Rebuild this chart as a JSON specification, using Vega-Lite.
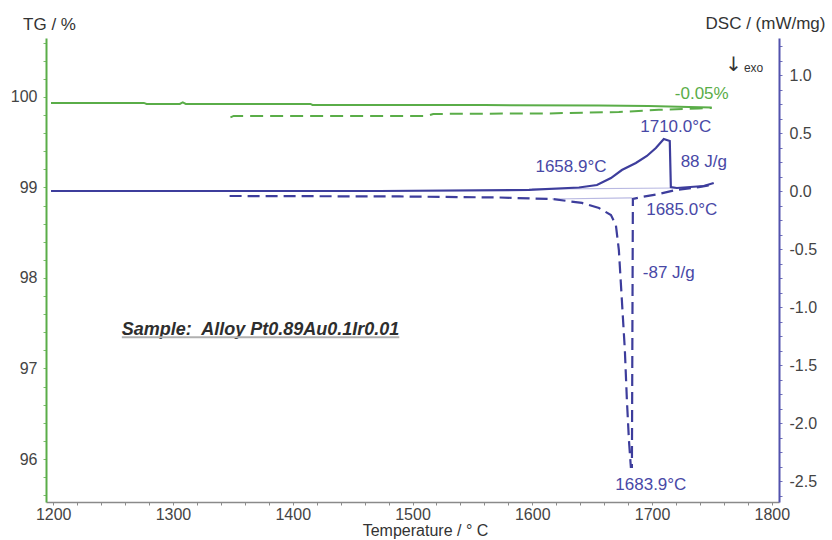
{
  "$schema": "https://vega.github.io/schema/vega-lite/v6.json",
  "width": 733,
  "height": 464,
  "autosize": {"type": "none"},
  "padding": {"left": 46, "top": 38, "right": 53, "bottom": 38},
  "background": "white",
  "config": {"view": {"stroke": null}, "font": "Liberation Sans", "text": {"font": "Liberation Sans"}},
  "datasets": {
    "tgSolid": [
      {"i": 0, "T": 1198.2, "v": 99.934}, {"i": 1, "T": 1275.7, "v": 99.934}, {"i": 2, "T": 1278, "v": 99.923},
      {"i": 3, "T": 1305.7, "v": 99.923}, {"i": 4, "T": 1308.2, "v": 99.939}, {"i": 5, "T": 1310.7, "v": 99.923},
      {"i": 6, "T": 1414.8, "v": 99.923}, {"i": 7, "T": 1416.5, "v": 99.912}, {"i": 8, "T": 1560, "v": 99.91},
      {"i": 9, "T": 1655.7, "v": 99.906}, {"i": 10, "T": 1697, "v": 99.9}, {"i": 11, "T": 1730.7, "v": 99.89},
      {"i": 12, "T": 1749.8, "v": 99.884}
    ],
    "tgDashed": [
      {"i": 0, "T": 1348, "v": 99.774}, {"i": 1, "T": 1350.7, "v": 99.79}, {"i": 2, "T": 1512.3, "v": 99.79},
      {"i": 3, "T": 1517.3, "v": 99.812}, {"i": 4, "T": 1614, "v": 99.818}, {"i": 5, "T": 1672.3, "v": 99.834},
      {"i": 6, "T": 1705.7, "v": 99.857}, {"i": 7, "T": 1739, "v": 99.873}, {"i": 8, "T": 1749.8, "v": 99.879}
    ],
    "dscSolid": [
      {"i": 0, "T": 1198.2, "v": 0.0}, {"i": 1, "T": 1472.3, "v": 0.0}, {"i": 2, "T": 1597.3, "v": 0.009},
      {"i": 3, "T": 1639, "v": 0.03}, {"i": 4, "T": 1654, "v": 0.052}, {"i": 5, "T": 1665.7, "v": 0.112},
      {"i": 6, "T": 1674.8, "v": 0.181}, {"i": 7, "T": 1686.5, "v": 0.241}, {"i": 8, "T": 1695.7, "v": 0.302},
      {"i": 9, "T": 1703.2, "v": 0.371}, {"i": 10, "T": 1709.8, "v": 0.448}, {"i": 11, "T": 1714.8, "v": 0.431},
      {"i": 12, "T": 1715.7, "v": 0.034}, {"i": 13, "T": 1720.7, "v": 0.026}, {"i": 14, "T": 1743.2, "v": 0.043},
      {"i": 15, "T": 1751.5, "v": 0.069}
    ],
    "dscDashed": [
      {"i": 0, "T": 1347.3, "v": -0.043}, {"i": 1, "T": 1489, "v": -0.047}, {"i": 2, "T": 1572.3, "v": -0.056},
      {"i": 3, "T": 1616.5, "v": -0.069}, {"i": 4, "T": 1641.5, "v": -0.103}, {"i": 5, "T": 1655.7, "v": -0.147},
      {"i": 6, "T": 1665.7, "v": -0.207}, {"i": 7, "T": 1669.8, "v": -0.293}, {"i": 8, "T": 1672.3, "v": -0.509},
      {"i": 9, "T": 1674.8, "v": -0.94}, {"i": 10, "T": 1677.3, "v": -1.371}, {"i": 11, "T": 1679, "v": -1.802},
      {"i": 12, "T": 1680.7, "v": -2.147}, {"i": 13, "T": 1682.3, "v": -2.379}, {"i": 14, "T": 1683.2, "v": -2.379},
      {"i": 15, "T": 1683.6, "v": -1.2}, {"i": 16, "T": 1684, "v": -0.069}, {"i": 17, "T": 1691.5, "v": -0.052},
      {"i": 18, "T": 1705.7, "v": -0.026}, {"i": 19, "T": 1719.8, "v": 0.009}, {"i": 20, "T": 1739, "v": 0.034},
      {"i": 21, "T": 1749.8, "v": 0.052}
    ],
    "baselines": [
      {"s": "heat", "T": 1599.8, "v": 0.017}, {"s": "heat", "T": 1719.8, "v": 0.026},
      {"s": "cool", "T": 1616.5, "v": -0.069}, {"s": "cool", "T": 1683.2, "v": -0.06}
    ],
    "dscLabels": [
      {"label": "1710.0°C", "T": 1719.8, "v": 0.552},
      {"label": "1658.9°C", "T": 1632.3, "v": 0.207},
      {"label": "88 J/g", "T": 1743.2, "v": 0.25},
      {"label": "1685.0°C", "T": 1724.8, "v": -0.164},
      {"label": "-87 J/g", "T": 1714, "v": -0.707},
      {"label": "1683.9°C", "T": 1699, "v": -2.534}
    ]
  },
  "encoding": {
    "x": {
      "field": "T", "type": "quantitative",
      "scale": {"domain": [1194, 1806], "nice": false, "zero": false},
      "axis": {
        "values": [1200,1220,1240,1260,1280,1300,1320,1340,1360,1380,1400,1420,1440,1460,1480,1500,1520,1540,1560,1580,1600,1620,1640,1660,1680,1700,1720,1740,1760,1780,1800],
        "tickCount": 200,
        "labelExpr": "datum.value % 100 == 0 ? '' + datum.value : ''",
        "labelOverlap": false, "labelBound": false,
        "grid": false, "domainColor": "#8a8a8a", "domainWidth": 1.5, "tickColor": "#8a8a8a", "tickSize": 3,
        "labelFontSize": 16, "labelColor": "#444444", "labelPadding": 1, "labelFont": "Liberation Sans",
        "title": "Temperature / ° C", "titleFontSize": 16, "titleFontWeight": "normal", "titleColor": "#333333",
        "titleFont": "Liberation Sans", "titleX": 379, "titleY": 28, "titleAlign": "center", "titleBaseline": "middle"
      }
    }
  },
  "layer": [
    {
      "layer": [
        {
          "data": {"name": "tgSolid"},
          "mark": {"type": "line", "color": "#5aad48", "strokeWidth": 2},
          "encoding": {
            "order": {"field": "i", "type": "quantitative"},
            "y": {
              "field": "v", "type": "quantitative",
              "scale": {"domain": [95.525, 100.651], "nice": false, "zero": false},
              "axis": {
                "orient": "left",
                "values": [95.6,95.8,96,96.2,96.4,96.6,96.8,97,97.2,97.4,97.6,97.8,98,98.2,98.4,98.6,98.8,99,99.2,99.4,99.6,99.8,100,100.2,100.4,100.6],
                "tickCount": 200,
                "labelExpr": "abs(datum.value - round(datum.value)) < 0.01 ? '' + round(datum.value) : ''",
                "labelOverlap": false, "labelBound": false,
                "grid": false, "domainColor": "#5aad48", "domainWidth": 2, "tickColor": "#7cbf6c", "tickSize": 3,
                "labelFontSize": 16, "labelColor": "#444444", "labelPadding": 6, "labelFont": "Liberation Sans",
                "title": "TG / %", "titleAngle": 0, "titleX": 3, "titleY": -14, "titleAlign": "center", "titleBaseline": "middle",
                "titleFontSize": 17, "titleFontWeight": "normal", "titleColor": "#333333", "titleFont": "Liberation Sans"
              }
            }
          }
        },
        {
          "data": {"name": "tgDashed"},
          "mark": {"type": "line", "color": "#5aad48", "strokeWidth": 2, "strokeDash": [13, 7]},
          "encoding": {
            "order": {"field": "i", "type": "quantitative"},
            "y": {"field": "v", "type": "quantitative"}
          }
        },
        {
          "data": {"values": [{"label": "-0.05%", "T": 1741.5, "v": 100.033}]},
          "mark": {"type": "text", "color": "#5aad48", "fontSize": 17, "align": "center", "baseline": "middle"},
          "encoding": {
            "y": {"field": "v", "type": "quantitative"},
            "text": {"field": "label"}
          }
        },
        {
          "data": {"values": [{"label": "Sample:\u00a0 Alloy Pt0.89Au0.1Ir0.01", "T": 1257.3, "v": 97.43}]},
          "mark": {"type": "text", "color": "#2e2e2e", "fontSize": 18, "fontStyle": "italic", "fontWeight": "bold", "align": "left", "baseline": "middle"},
          "encoding": {
            "y": {"field": "v", "type": "quantitative"},
            "text": {"field": "label"}
          }
        },
        {
          "data": {"values": [{"T": 1257.3, "T2": 1489, "v": 97.345}]},
          "mark": {"type": "rule", "color": "#b0b0b0", "strokeWidth": 2},
          "encoding": {
            "x2": {"field": "T2"},
            "y": {"field": "v", "type": "quantitative"}
          }
        }
      ]
    },
    {
      "layer": [
        {
          "data": {"name": "baselines"},
          "mark": {"type": "line", "color": "#b9b9e2", "strokeWidth": 1.2},
          "encoding": {
            "detail": {"field": "s"},
            "y": {
              "field": "v", "type": "quantitative",
              "scale": {"domain": [-2.681, 1.319], "nice": false, "zero": false},
              "axis": {
                "orient": "right",
                "values": [-2.625,-2.5,-2.375,-2.25,-2.125,-2,-1.875,-1.75,-1.625,-1.5,-1.375,-1.25,-1.125,-1,-0.875,-0.75,-0.625,-0.5,-0.375,-0.25,-0.125,0,0.125,0.25,0.375,0.5,0.625,0.75,0.875,1,1.125,1.25],
                "tickCount": 200,
                "labelExpr": "abs(datum.value*2 - round(datum.value*2)) < 0.001 ? (datum.value % 1 == 0 ? round(datum.value) + '.0' : '' + datum.value) : ''",
                "labelOverlap": false, "labelBound": false,
                "grid": false, "domainColor": "#5252ad", "domainWidth": 2, "tickColor": "#7070bb", "tickSize": 3,
                "labelFontSize": 16, "labelColor": "#444444", "labelPadding": 7, "labelFont": "Liberation Sans",
                "title": "DSC / (mW/mg)", "titleAngle": 0, "titleX": -14, "titleY": -15, "titleAlign": "center", "titleBaseline": "middle",
                "titleFontSize": 17, "titleFontWeight": "normal", "titleColor": "#333333", "titleFont": "Liberation Sans"
              }
            }
          }
        },
        {
          "data": {"name": "dscSolid"},
          "mark": {"type": "line", "color": "#3d3d9c", "strokeWidth": 2.2},
          "encoding": {
            "order": {"field": "i", "type": "quantitative"},
            "y": {"field": "v", "type": "quantitative"}
          }
        },
        {
          "data": {"name": "dscDashed"},
          "mark": {"type": "line", "color": "#3d3d9c", "strokeWidth": 2.2, "strokeDash": [12, 6]},
          "encoding": {
            "order": {"field": "i", "type": "quantitative"},
            "y": {"field": "v", "type": "quantitative"}
          }
        },
        {
          "data": {"name": "dscLabels"},
          "mark": {"type": "text", "color": "#4848a6", "fontSize": 17, "align": "center", "baseline": "middle"},
          "encoding": {
            "y": {"field": "v", "type": "quantitative"},
            "text": {"field": "label"}
          }
        },
        {
          "data": {"values": [{"label": "↓", "T": 1768.2, "v": 1.086}]},
          "mark": {"type": "text", "color": "#333333", "fontSize": 20, "font": "DejaVu Sans", "align": "center", "baseline": "middle"},
          "encoding": {
            "y": {"field": "v", "type": "quantitative"},
            "text": {"field": "label"}
          }
        },
        {
          "data": {"values": [{"label": "exo", "T": 1784.8, "v": 1.06}]},
          "mark": {"type": "text", "color": "#333333", "fontSize": 12, "align": "center", "baseline": "middle"},
          "encoding": {
            "y": {"field": "v", "type": "quantitative"},
            "text": {"field": "label"}
          }
        }
      ]
    }
  ],
  "resolve": {"scale": {"y": "independent"}}
}
